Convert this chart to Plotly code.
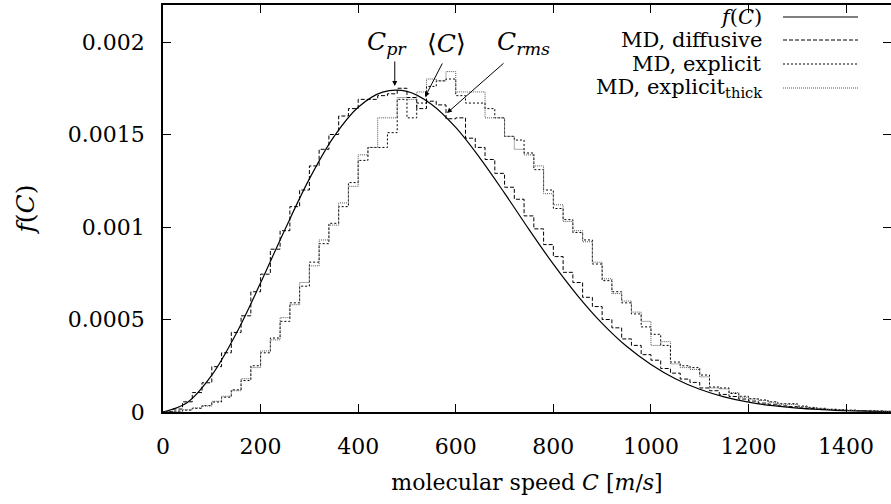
import plotly.graph_objects as go

# ---------------- data ----------------
fc_speed = list(range(0, 1501, 50))
fc_values = [0, 5.14e-5, 1.99e-4, 4.24e-4, 6.98e-4, 9.87e-4, 1.260e-3, 1.487e-3,
             1.647e-3, 1.729e-3, 1.733e-3, 1.664e-3, 1.538e-3, 1.371e-3, 1.183e-3,
             9.87e-4, 7.99e-4, 6.28e-4, 4.79e-4, 3.55e-4, 2.57e-4, 1.80e-4, 1.23e-4,
             8.2e-5, 5.3e-5, 3.4e-5, 2.1e-5, 1.3e-5, 7e-6, 4e-6, 2e-6]

bin_edges = list(range(0, 1501, 20))

md_diffusive = [2e-6, 1.6e-5, 5.5e-5, 1.05e-4, 1.58e-4, 2.45e-4, 3.2e-4, 4.3e-4, 5.2e-4, 6.5e-4,
                7.45e-4, 8.8e-4, 9.8e-4, 1.11e-3, 1.20e-3, 1.33e-3, 1.42e-3, 1.50e-3, 1.60e-3, 1.64e-3,
                1.69e-3, 1.69e-3, 1.71e-3, 1.72e-3, 1.75e-3, 1.70e-3, 1.64e-3, 1.68e-3, 1.66e-3, 1.585e-3,
                1.59e-3, 1.48e-3, 1.43e-3, 1.365e-3, 1.29e-3, 1.215e-3, 1.15e-3, 1.06e-3, 9.9e-4, 9.05e-4,
                8.4e-4, 7.55e-4, 7.0e-4, 6.2e-4, 5.7e-4, 5.0e-4, 4.55e-4, 3.95e-4, 3.6e-4, 3.1e-4,
                2.8e-4, 2.35e-4, 2.1e-4, 1.78e-4, 1.6e-4, 1.3e-4, 1.15e-4, 9.5e-5, 8.4e-5, 7.0e-5,
                5.9e-5, 4.8e-5, 4.2e-5, 3.3e-5, 2.9e-5, 2.2e-5, 1.9e-5, 1.5e-5, 1.3e-5, 1.0e-5,
                8e-6, 7e-6, 5e-6, 4e-6, 3e-6]

md_explicit = [0, 5e-6, 1.0e-5, 2.0e-5, 3.5e-5, 5.4e-5, 8.0e-5, 1.2e-4, 1.7e-4, 2.5e-4,
               3.2e-4, 4.0e-4, 4.9e-4, 5.9e-4, 6.8e-4, 8.1e-4, 9.1e-4, 1.02e-3, 1.11e-3, 1.24e-3,
               1.36e-3, 1.43e-3, 1.43e-3, 1.51e-3, 1.69e-3, 1.59e-3, 1.67e-3, 1.76e-3, 1.79e-3, 1.80e-3,
               1.71e-3, 1.67e-3, 1.67e-3, 1.64e-3, 1.59e-3, 1.49e-3, 1.47e-3, 1.40e-3, 1.31e-3, 1.20e-3,
               1.10e-3, 1.04e-3, 9.7e-4, 9.3e-4, 8.0e-4, 7.1e-4, 6.5e-4, 5.9e-4, 5.3e-4, 4.6e-4,
               4.2e-4, 3.6e-4, 2.7e-4, 2.5e-4, 2.4e-4, 2.0e-4, 1.35e-4, 1.3e-4, 1.0e-4, 8.5e-5,
               7.2e-5, 6.5e-5, 5.5e-5, 4.5e-5, 4.5e-5, 3.2e-5, 2.5e-5, 2.0e-5, 1.5e-5, 1.2e-5,
               1.0e-5, 8e-6, 6e-6, 5e-6, 4e-6]

md_explicit_thick = [0, 4e-6, 1.2e-5, 2.2e-5, 3.2e-5, 5.8e-5, 8.5e-5, 1.15e-4, 1.8e-4, 2.4e-4,
                     3.3e-4, 3.9e-4, 5.1e-4, 5.8e-4, 7.0e-4, 7.9e-4, 9.3e-4, 1.01e-3, 1.13e-3, 1.22e-3,
                     1.39e-3, 1.43e-3, 1.59e-3, 1.59e-3, 1.70e-3, 1.69e-3, 1.73e-3, 1.80e-3, 1.79e-3, 1.84e-3,
                     1.73e-3, 1.73e-3, 1.73e-3, 1.59e-3, 1.59e-3, 1.49e-3, 1.42e-3, 1.39e-3, 1.33e-3, 1.18e-3,
                     1.12e-3, 1.03e-3, 9.8e-4, 9.2e-4, 8.1e-4, 7.2e-4, 6.4e-4, 6.0e-4, 5.4e-4, 4.9e-4,
                     3.6e-4, 3.8e-4, 2.6e-4, 2.4e-4, 2.3e-4, 1.9e-4, 1.3e-4, 1.25e-4, 1.05e-4, 8e-5,
                     7.0e-5, 6.2e-5, 5.3e-5, 4.2e-5, 4.0e-5, 3.0e-5, 2.3e-5, 1.8e-5, 1.4e-5, 1.1e-5,
                     9e-6, 7e-6, 6e-6, 4e-6, 3e-6]

x_ticks = [0, 200, 400, 600, 800, 1000, 1200, 1400]
y_ticks = [0, 0.0005, 0.001, 0.0015, 0.002]
y_tick_labels = ["0", "0.0005", "0.001", "0.0015", "0.002"]

series_names = ["<i>f</i>(<i>C</i>)", "MD, diffusive", "MD, explicit", "MD, explicit<sub>thick</sub>"]
series_dash = ["solid", "4px,2px", "2px,2px", "1px,1px"]
series_color = ["black", "black", "black", "#555555"]

markers_label = ["<i>C<sub>pr</sub></i>", "\u27e8<i>C</i>\u27e9", "<i>C<sub>rms</sub></i>"]
markers_tip_x = [475, 537, 582]
markers_tip_y = [1.762e-3, 1.703e-3, 1.616e-3]
markers_tail_x = [475, 574, 701]
markers_tail_y = [1.903e-3, 1.892e-3, 1.892e-3]
markers_text_x = [459, 582, 738]
markers_text_y = 1.994e-3

FONT = "DejaVu Serif"
FS_TICK = 22
FS_TITLE = 22
FS_LABEL = 25
FS_LEGEND = 21

fig = go.Figure()

fig.add_trace(go.Scatter(x=fc_speed, y=fc_values, mode="lines",
                         line=dict(color=series_color[0], width=1.2, shape="spline", dash=series_dash[0]),
                         showlegend=False))

for vals, dash, col in [(md_diffusive, series_dash[1], series_color[1]),
                        (md_explicit, series_dash[2], series_color[2]),
                        (md_explicit_thick, series_dash[3], series_color[3])]:
    ys = vals + [vals[-1]]
    fig.add_trace(go.Scatter(x=bin_edges, y=ys, mode="lines",
                             line=dict(color=col, width=1, shape="hv", dash=dash),
                             showlegend=False))

fig.add_trace(go.Scatter(x=[None], y=[None], yaxis="y2", showlegend=False))

annotations = []
for i in range(3):
    annotations.append(dict(x=markers_tip_x[i], y=markers_tip_y[i], xref="x", yref="y",
                            ax=markers_tail_x[i], ay=markers_tail_y[i], axref="x", ayref="y",
                            showarrow=True, arrowhead=2, arrowsize=1, arrowwidth=1,
                            arrowcolor="black", text=""))
    annotations.append(dict(x=markers_text_x[i], y=markers_text_y, xref="x", yref="y",
                            text=markers_label[i], showarrow=False,
                            font=dict(family=FONT, size=FS_LABEL, color="black")))

W, H = 891, 504
L, R, T, B = 163, 0, 5, 92
pw, ph = W - L - R, H - T - B
legend_rows_py = [17, 40, 64, 88]
shapes = []
for i, name in enumerate(series_names):
    yp = 1 - (legend_rows_py[i] - T) / ph
    annotations.append(dict(x=(764 - L) / pw, y=yp, xref="paper", yref="paper",
                            xanchor="right", yanchor="middle", text=name, showarrow=False,
                            font=dict(family=FONT, size=FS_LEGEND, color="black")))
    shapes.append(dict(type="line", xref="paper", yref="paper",
                       x0=(783 - L) / pw, x1=(858 - L) / pw, y0=yp, y1=yp,
                       line=dict(color=series_color[i], width=1, dash=series_dash[i])))

fig.update_layout(
    width=W, height=H,
    margin=dict(l=L, r=R, t=T, b=B, pad=0),
    paper_bgcolor="white", plot_bgcolor="white",
    font=dict(family=FONT, size=FS_TICK, color="black"),
    annotations=annotations, shapes=shapes,
    xaxis=dict(range=[0, 1492], tickvals=x_ticks, ticks="inside", ticklen=8, tickwidth=1,
               tickcolor="black", showline=True, linecolor="black", linewidth=1.5,
               mirror="ticks", showgrid=False, zeroline=False, ticklabelstandoff=14,
               title=dict(text="molecular speed <i>C</i> [<i>m</i>/<i>s</i>]", standoff=16,
                          font=dict(family=FONT, size=FS_TITLE)),
               tickfont=dict(family=FONT, size=FS_TICK)),
    yaxis=dict(range=[0, 0.0022], tickvals=y_ticks, ticktext=y_tick_labels, ticks="inside",
               ticklen=8, tickwidth=1, tickcolor="black", showline=True, linecolor="black",
               linewidth=1.5, mirror=False, showgrid=False, zeroline=False, ticklabelstandoff=12,
               title=dict(text="<i>f</i>(<i>C</i>)", standoff=26, font=dict(family=FONT, size=FS_LABEL)),
               tickfont=dict(family=FONT, size=FS_TICK)),
    yaxis2=dict(range=[0, 0.0022], overlaying="y", side="right", tickvals=y_ticks,
                showticklabels=False, ticks="inside", ticklen=8, tickwidth=1, tickcolor="black",
                showline=False, showgrid=False, zeroline=False),
)

fig.write_html("out.html")
